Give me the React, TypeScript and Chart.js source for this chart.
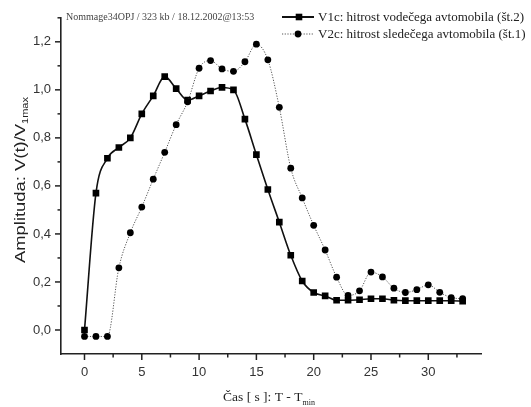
import React, { useEffect, useRef } from "react";
import { Chart, registerables } from "chart.js";

Chart.register(...registerables);

const timeSec: number[] = [0,1,2,3,4,5,6,7,8,9,10,11,12,13,14,15,16,17,18,19,20,21,22,23,24,25,26,27,28,29,30,31,32,33];
const v1c: number[] = [0.00,0.57,0.715,0.76,0.80,0.90,0.975,1.055,1.005,0.957,0.975,0.995,1.01,1.00,0.878,0.73,0.585,0.449,0.311,0.204,0.156,0.142,0.124,0.124,0.126,0.13,0.13,0.124,0.122,0.122,0.122,0.122,0.122,0.12];
const v2c: number[] = [-0.027,-0.027,-0.027,0.259,0.405,0.512,0.628,0.74,0.855,0.95,1.09,1.122,1.087,1.077,1.117,1.19,1.125,0.927,0.674,0.55,0.436,0.333,0.22,0.144,0.163,0.241,0.221,0.174,0.156,0.168,0.188,0.157,0.135,0.13];
const xMajorTicks: number[] = [0,5,10,15,20,25,30];
const xMinorTicks: number[] = [2.5,7.5,12.5,17.5,22.5,27.5,32.5];
const yMajorTicks: number[] = [0,0.2,0.4,0.6,0.8,1.0,1.2];
const yMinorTicks: number[] = [0.1,0.3,0.5,0.7,0.9,1.1,1.3];
const seriesLabels: string[] = [
  "V1c: hitrost vodečega avtomobila (št.2)",
  "V2c: hitrost sledečega avtomobila (št.1)",
];
const noteText = "Nommage34OPJ / 323 kb / 18.12.2002@13:53";

const decor = {
  id: "decor",
  afterDraw(chart: any) {
    const ctx = chart.ctx as CanvasRenderingContext2D;
    const xs = chart.scales.x;
    const ys = chart.scales.y;
    const area = chart.chartArea;
    ctx.save();
    ctx.strokeStyle = "#222";
    ctx.lineWidth = 1.5;
    const tick = (px: number, len: number, horiz: boolean) => {
      ctx.beginPath();
      if (horiz) {
        ctx.moveTo(px, area.bottom);
        ctx.lineTo(px, area.bottom + len);
      } else {
        ctx.moveTo(area.left, px);
        ctx.lineTo(area.left - len, px);
      }
      ctx.stroke();
    };
    xMajorTicks.forEach((v) => tick(xs.getPixelForValue(v), 6, true));
    xMinorTicks.forEach((v) => tick(xs.getPixelForValue(v), 3.5, true));
    yMajorTicks.forEach((v) => tick(ys.getPixelForValue(v), 6, false));
    yMinorTicks.forEach((v) => tick(ys.getPixelForValue(v), 3.5, false));

    // note
    ctx.fillStyle = "#444";
    ctx.font = "10px 'Liberation Serif'";
    ctx.textBaseline = "middle";
    ctx.textAlign = "left";
    ctx.fillText(noteText, 66, 17);

    // legend
    const rows = [
      { y: 17, dash: [] as number[], color: "#111", width: 2, shape: "rect" },
      { y: 34, dash: [1.2, 1.5], color: "#555", width: 1, shape: "circle" },
    ];
    rows.forEach((r, i) => {
      ctx.save();
      ctx.strokeStyle = r.color;
      ctx.lineWidth = r.width;
      ctx.setLineDash(r.dash);
      ctx.beginPath();
      ctx.moveTo(282, r.y);
      ctx.lineTo(314, r.y);
      ctx.stroke();
      ctx.restore();
      ctx.fillStyle = "#000";
      ctx.beginPath();
      if (r.shape === "rect") {
        ctx.rect(299 - 3.3, r.y - 3.3, 6.6, 6.6);
      } else {
        ctx.arc(298, r.y, 3.4, 0, Math.PI * 2);
      }
      ctx.fill();
      ctx.fillStyle = "#222";
      ctx.font = "13px 'Liberation Serif'";
      ctx.textBaseline = "middle";
      ctx.fillText(seriesLabels[i], 318, r.y + 0.5);
    });

    // y title
    ctx.save();
    ctx.translate(25, 180);
    ctx.rotate(-Math.PI / 2);
    ctx.fillStyle = "#222";
    ctx.textBaseline = "alphabetic";
    const main = "Amplituda: V(t)/V";
    ctx.font = "15px 'Liberation Sans'";
    const w1 = ctx.measureText(main).width;
    ctx.font = "9px 'Liberation Sans'";
    const w2 = ctx.measureText("1max").width;
    const stretch = 166 / (w1 + w2);
    ctx.scale(stretch, 1);
    const sx = -(w1 + w2) / 2;
    ctx.font = "15px 'Liberation Sans'";
    ctx.fillText(main, sx, 0);
    ctx.font = "9px 'Liberation Sans'";
    ctx.fillText("1max", sx + w1, 3);
    ctx.restore();

    // x title
    ctx.fillStyle = "#222";
    ctx.textBaseline = "alphabetic";
    ctx.textAlign = "left";
    const xm = "Čas [ s ]: T - T";
    ctx.font = "13.5px 'Liberation Serif'";
    const xw1 = ctx.measureText(xm).width;
    ctx.font = "8px 'Liberation Serif'";
    const xw2 = ctx.measureText("min").width;
    const x0 = 223;
    ctx.font = "13.5px 'Liberation Serif'";
    ctx.fillText(xm, x0, 401);
    ctx.font = "8px 'Liberation Serif'";
    ctx.fillText("min", x0 + xw1, 405);
    ctx.restore();
  },
};

export default function App() {
  const ref = useRef<HTMLCanvasElement | null>(null);
  useEffect(() => {
    if (!ref.current) return;
    const chart = new Chart(ref.current, {
      type: "line",
      data: {
        datasets: [
          {
            label: seriesLabels[1],
            data: timeSec.map((t, i) => ({ x: t, y: v2c[i] })),
            borderColor: "#555",
            borderWidth: 1,
            borderDash: [1.2, 1.5],
            pointStyle: "circle",
            pointRadius: 3.4,
            pointBorderWidth: 0,
            pointBackgroundColor: "#000",
            cubicInterpolationMode: "monotone",
            tension: 0.4,
          },
          {
            label: seriesLabels[0],
            data: timeSec.map((t, i) => ({ x: t, y: v1c[i] })),
            borderColor: "#111",
            borderWidth: 1.6,
            pointStyle: "rect",
            pointRadius: 4.7,
            pointBorderWidth: 0,
            pointBackgroundColor: "#000",
            cubicInterpolationMode: "monotone",
            tension: 0.4,
          },
        ],
      },
      options: {
        responsive: false,
        animation: false,
        layout: { padding: { top: 13, right: 50, left: 0, bottom: 0 } },
        plugins: { legend: { display: false }, tooltip: { enabled: false }, title: { display: false } },
        scales: {
          x: {
            type: "linear",
            min: -2.05,
            max: 34.6,
            grid: { display: false, drawTicks: false, tickLength: 0 },
            border: { display: true, color: "#222", width: 1.6 },
            afterBuildTicks: (s: any) => { s.ticks = xMajorTicks.map((v) => ({ value: v })); },
            afterFit: (s: any) => { s.height = 53; },
            ticks: {
              padding: 11,
              color: "#333",
              font: { family: "'Liberation Sans'", size: 13 },
              callback: (v: any) => String(v),
              maxRotation: 0,
              autoSkip: false,
            },
          },
          y: {
            type: "linear",
            min: -0.1,
            max: 1.3,
            grid: { display: false, drawTicks: false, tickLength: 0 },
            border: { display: true, color: "#222", width: 1.6 },
            afterBuildTicks: (s: any) => { s.ticks = yMajorTicks.map((v) => ({ value: v })); },
            afterFit: (s: any) => { s.width = 61; },
            ticks: {
              padding: 10,
              color: "#333",
              font: { family: "'Liberation Sans'", size: 13 },
              callback: (v: any) => Number(v).toFixed(1).replace(".", ","),
              autoSkip: false,
            },
          },
        },
      },
      plugins: [decor],
    } as any);
    return () => chart.destroy();
  }, []);
  return (
    <div style={{ position: "fixed", left: 0, top: 0, width: 531, height: 407, background: "#fff" }}>
      <canvas ref={ref} width={531} height={407} style={{ display: "block" }} />
    </div>
  );
}
